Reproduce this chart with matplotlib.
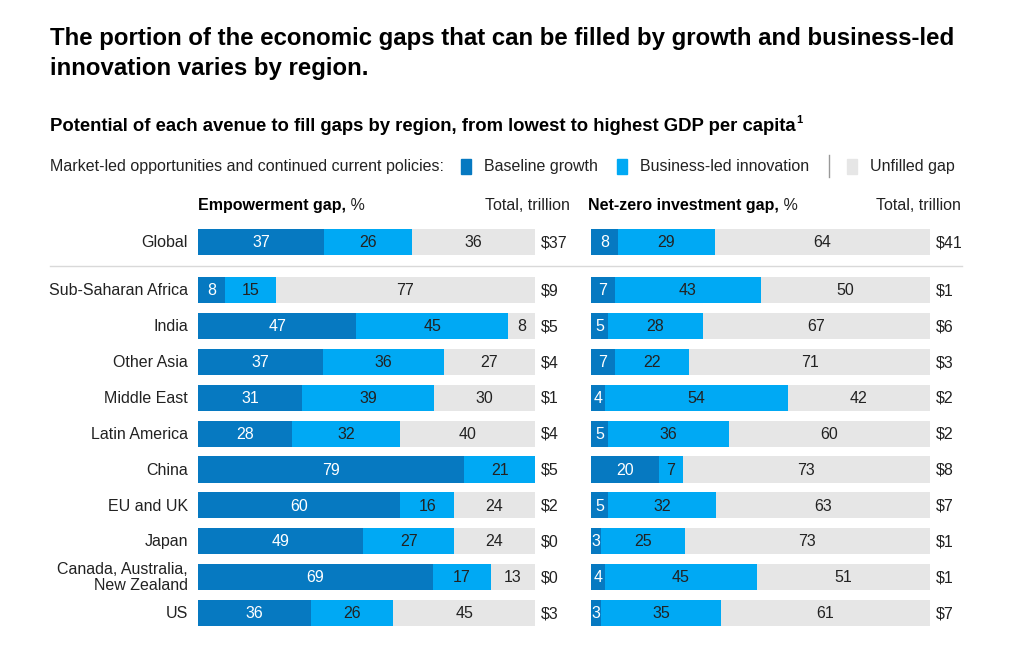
import matplotlib
matplotlib.use("Agg")
import matplotlib.pyplot as plt
from matplotlib.patches import Rectangle
from matplotlib.lines import Line2D

plt.rcParams['font.family'] = ['Liberation Sans', 'DejaVu Sans']

regions = ["Global", "Sub-Saharan Africa", "India", "Other Asia", "Middle East",
           "Latin America", "China", "EU and UK", "Japan",
           "Canada, Australia,\nNew Zealand", "US"]

emp_baseline = [37, 8, 47, 37, 31, 28, 79, 60, 49, 69, 36]
emp_innov    = [26, 15, 45, 36, 39, 32, 21, 16, 27, 17, 26]
emp_unfilled = [36, 77, 8, 27, 30, 40, 0, 24, 24, 13, 45]
emp_total    = ["$37", "$9", "$5", "$4", "$1", "$4", "$5", "$2", "$0", "$0", "$3"]

nz_baseline = [8, 7, 5, 7, 4, 5, 20, 5, 3, 4, 3]
nz_innov    = [29, 43, 28, 22, 54, 36, 7, 32, 25, 45, 35]
nz_unfilled = [64, 50, 67, 71, 42, 60, 73, 63, 73, 51, 61]
nz_total    = ["$41", "$1", "$6", "$3", "$2", "$2", "$8", "$7", "$1", "$1", "$7"]

C_BASE = "#0679C1"
C_INNOV = "#00A9F4"
C_GAP = "#E6E6E6"
TXT = "#222222"
FS = 11.5

W, H = 1017, 657
fig = plt.figure(figsize=(W / 100, H / 100), dpi=100)

def fx(px):
    return px / W

def fy(py):
    return 1 - py / H

# row positions (Global separated from the rest)
ypos = [-1.34] + list(range(10))
bar_h = 0.73
ylim = (9 + 0.365, -1.34 - 0.365)
ax_top, ax_bot = 229, 626

def make_axes(left_px, right_px):
    ax = fig.add_axes([fx(left_px), fy(ax_bot), fx(right_px - left_px), (ax_bot - ax_top) / H])
    ax.set_xlim(0, 100)
    ax.set_ylim(*ylim)
    ax.axis('off')
    return ax

def draw_panel(ax, base, innov, unf):
    for i, y in enumerate(ypos):
        tot = base[i] + innov[i] + unf[i]
        b = base[i] / tot * 100
        n = innov[i] / tot * 100
        u = unf[i] / tot * 100
        ax.barh(y, b, left=0, height=bar_h, color=C_BASE, edgecolor='none')
        ax.barh(y, n, left=b, height=bar_h, color=C_INNOV, edgecolor='none')
        ax.barh(y, u, left=b + n, height=bar_h, color=C_GAP, edgecolor='none')
        for val, left, wdt, col in [(base[i], 0, b, 'white'),
                                    (innov[i], b, n, TXT),
                                    (unf[i], b + n, u, TXT)]:
            if val > 0:
                ax.text(left + wdt / 2, y + 0.02, str(val), ha='center', va='center',
                        fontsize=FS, color=col)

ax1 = make_axes(198, 535)
draw_panel(ax1, emp_baseline, emp_innov, emp_unfilled)
ax2 = make_axes(591, 930)
draw_panel(ax2, nz_baseline, nz_innov, nz_unfilled)

# row labels and totals
for i, y in enumerate(ypos):
    ax1.text(-3, y + 0.02, regions[i], ha='right', va='center', fontsize=FS, color=TXT,
             linespacing=1.1)
    ax1.text(101.8, y + 0.02, emp_total[i], ha='left', va='center', fontsize=FS, color=TXT)
    ax2.text(101.8, y + 0.02, nz_total[i], ha='left', va='center', fontsize=FS, color=TXT)

# separator line under Global
fig.add_artist(Line2D([fx(50), fx(962)], [fy(266), fy(266)], color="#D9D9D9", lw=1))

# titles
fig.text(fx(50), fy(45), "The portion of the economic gaps that can be filled by growth and business-led",
         ha='left', va='baseline', fontsize=17.3, fontweight='bold', color='black')
fig.text(fx(50), fy(75), "innovation varies by region.",
         ha='left', va='baseline', fontsize=17.3, fontweight='bold', color='black')
fig.text(fx(50), fy(131), "Potential of each avenue to fill gaps by region, from lowest to highest GDP per capita",
         ha='left', va='baseline', fontsize=13.3, fontweight='bold', color='black')

renderer = fig.canvas.get_renderer()

def right_px(t):
    bb = t.get_window_extent(renderer=renderer)
    return bb.x1

sub = fig.texts[-1]
fig.text(fx(right_px(sub) + 1), fy(123), "1", ha='left', va='baseline', fontsize=8,
         fontweight='bold', color='black')

# legend
ly = fy(171)
fig.text(fx(50), ly, "Market-led opportunities and continued current policies:", ha='left', va='baseline',
         fontsize=FS, color=TXT)
sq_w, sq_h = 10, 15
for x0, col, lab in [(461, C_BASE, "Baseline growth"), (617, C_INNOV, "Business-led innovation"),
                     (847, C_GAP, "Unfilled gap")]:
    fig.add_artist(Rectangle((fx(x0), fy(166 + sq_h / 2)), fx(sq_w), sq_h / H, color=col,
                             transform=fig.transFigure))
    fig.text(fx(x0 + 23), ly, lab, ha='left', va='baseline', fontsize=FS, color=TXT)
fig.add_artist(Line2D([fx(829), fx(829)], [fy(155), fy(177)], color="#999999", lw=1))

# headers
hy = fy(210)
t1 = fig.text(fx(198), hy, "Empowerment gap,", ha='left', va='baseline', fontsize=FS,
              fontweight='bold', color='black')
fig.text(fx(right_px(t1)), hy, " %", ha='left', va='baseline', fontsize=FS, color=TXT)
fig.text(fx(570), hy, "Total, trillion", ha='right', va='baseline', fontsize=FS, color=TXT)
t2 = fig.text(fx(588), hy, "Net-zero investment gap,", ha='left', va='baseline', fontsize=FS,
              fontweight='bold', color='black')
fig.text(fx(right_px(t2)), hy, " %", ha='left', va='baseline', fontsize=FS, color=TXT)
fig.text(fx(961), hy, "Total, trillion", ha='right', va='baseline', fontsize=FS, color=TXT)

fig.savefig("out.png", dpi=100, facecolor='white')
